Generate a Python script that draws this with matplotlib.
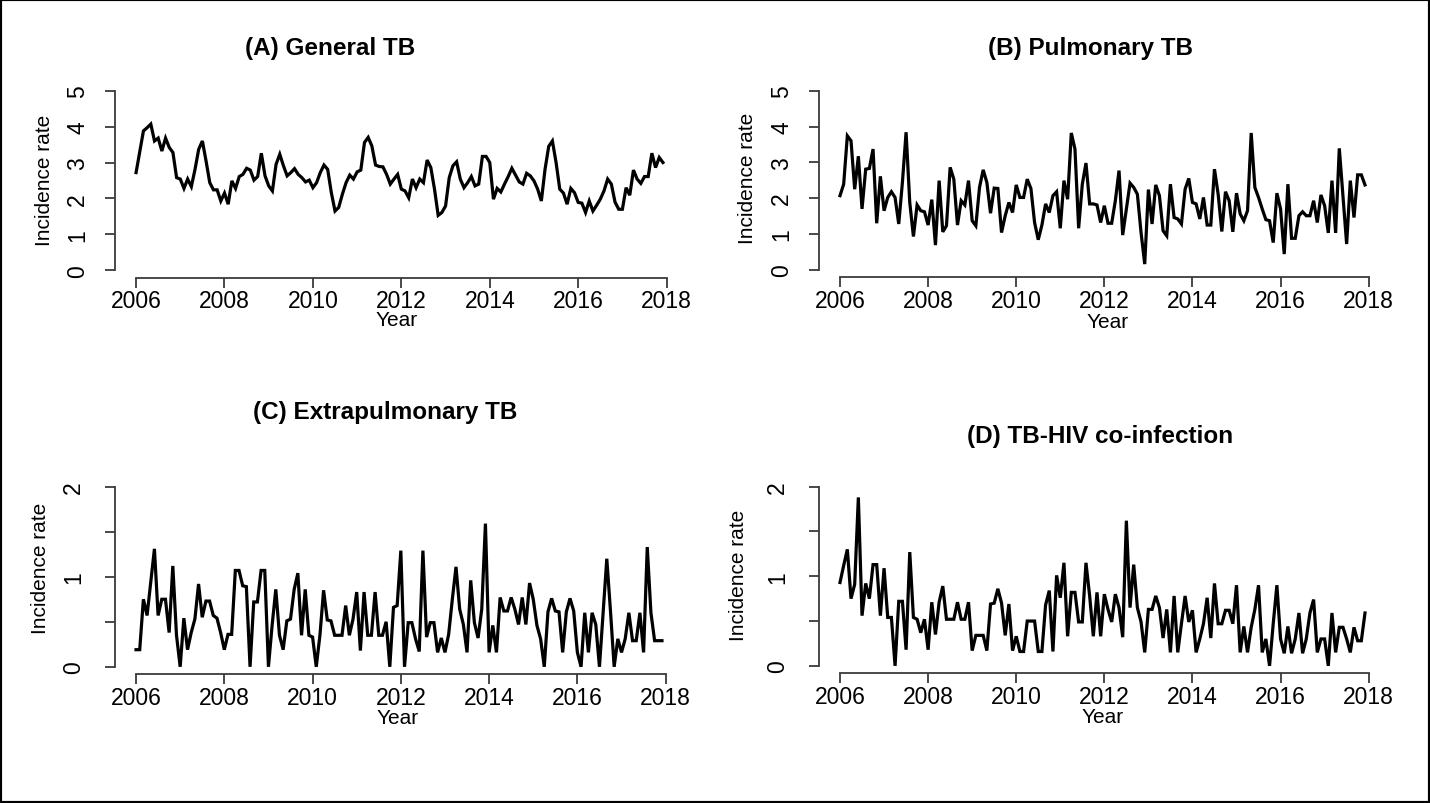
import numpy as np
import matplotlib
matplotlib.use("Agg")
import matplotlib.pyplot as plt
from matplotlib.patches import Rectangle

plt.rcParams['font.family'] = ['Liberation Sans', 'DejaVu Sans']

# monthly incidence rates, Jan 2006 - Dec 2017
general_tb = [2.72, 3.30, 3.88, 3.97, 4.07, 3.60, 3.68, 3.32, 3.68, 3.42,
              3.28, 2.58, 2.54, 2.28, 2.54, 2.33, 2.81, 3.37, 3.60, 3.04,
              2.44, 2.24, 2.24, 1.93, 2.15, 1.84, 2.49, 2.28, 2.61, 2.67,
              2.84, 2.79, 2.51, 2.61, 3.26, 2.63, 2.35, 2.21, 2.95, 3.23,
              2.91, 2.63, 2.72, 2.83, 2.67, 2.58, 2.46, 2.51, 2.30, 2.44,
              2.72, 2.93, 2.81, 2.16, 1.65, 1.75, 2.12, 2.44, 2.65, 2.54,
              2.74, 2.79, 3.56, 3.70, 3.46, 2.93, 2.89, 2.88, 2.67,
              2.40, 2.54, 2.67, 2.26, 2.21, 2.02, 2.54, 2.30, 2.54, 2.44,
              3.07, 2.86, 2.26, 1.53, 1.61, 1.79, 2.58, 2.91, 3.02, 2.54,
              2.30, 2.44, 2.61, 2.35, 2.40, 3.17, 3.17, 3.00, 1.98, 2.28,
              2.18, 2.40, 2.61, 2.84, 2.65, 2.46, 2.40, 2.70, 2.63, 2.49,
              2.26, 1.93, 2.81, 3.45, 3.60, 3.00, 2.26, 2.15, 1.84, 2.28,
              2.16, 1.89, 1.87, 1.61, 1.93, 1.65, 1.81, 1.98, 2.21, 2.54,
              2.40, 1.90, 1.70, 1.70, 2.30, 2.09, 2.79, 2.54, 2.42, 2.61,
              2.61, 3.26, 2.86, 3.14, 3.00]

pulmonary_tb = [2.07, 2.39, 3.74, 3.60, 2.25, 3.17, 1.70, 2.81, 2.83, 3.37,
                1.30, 2.61, 1.65, 2.02, 2.18, 2.02, 1.28, 2.44, 3.84, 1.88,
                0.93, 1.81, 1.65, 1.62, 1.25, 1.96, 0.69, 2.49, 1.06, 1.23,
                2.86, 2.53, 1.25, 1.93, 1.81, 2.49, 1.37, 1.23, 2.30, 2.79,
                2.44, 1.58, 2.28, 2.27, 1.04, 1.51, 1.88, 1.60, 2.37, 2.02,
                2.02, 2.53, 2.27, 1.32, 0.84, 1.25, 1.84, 1.60, 2.07, 2.18,
                1.16, 2.49, 1.97, 3.82, 3.37, 1.16, 2.39, 2.98, 1.84, 1.84,
                1.81, 1.32, 1.79, 1.30,
                1.30, 1.93, 2.77, 0.97, 1.70, 2.42, 2.30, 2.11, 1.04, 0.16,
                2.24, 1.28, 2.37, 2.07, 1.09, 0.95, 2.39, 1.46, 1.42, 1.28,
                2.25, 2.55, 1.88, 1.84, 1.42, 2.02, 1.25, 1.25, 2.81, 2.11,
                1.07, 2.18, 1.93, 1.06, 2.14, 1.56, 1.37, 1.65, 3.82, 2.30,
                2.02, 1.70, 1.40, 1.37, 0.76, 2.14, 1.70, 0.44, 2.39, 0.88,
                0.88, 1.51, 1.62, 1.51, 1.51, 1.93, 1.32, 2.09, 1.79, 1.03,
                2.49, 1.03, 3.39, 2.07, 0.72, 2.49, 1.46, 2.65, 2.65, 2.37]

extrapulmonary_tb = [0.19, 0.19, 0.75, 0.57, 0.94, 1.31, 0.57, 0.75, 0.75, 0.38,
                     1.12, 0.35, 0.00, 0.54, 0.19, 0.38, 0.53, 0.92, 0.55, 0.73,
                     0.73, 0.57, 0.54, 0.38, 0.19, 0.36, 0.36, 1.07, 1.07, 0.90,
                     0.89, 0.00, 0.72, 0.72, 1.07, 1.07, 0.00, 0.46, 0.86, 0.35,
                     0.19, 0.51, 0.53, 0.86, 1.04, 0.35, 0.86, 0.35, 0.33, 0.00,
                     0.35, 0.85, 0.52, 0.51, 0.35, 0.35, 0.35, 0.68, 0.35, 0.53,
                     0.83, 0.18, 0.83, 0.35, 0.35, 0.83, 0.35, 0.35, 0.50, 0.00,
                     0.66, 0.68, 1.29, 0.00, 0.49,
                     0.49, 0.31, 0.17, 1.29, 0.33, 0.49, 0.49, 0.16, 0.32, 0.16,
                     0.36, 0.75, 1.11, 0.64, 0.47, 0.16, 0.96, 0.49, 0.32, 0.64,
                     1.59, 0.16, 0.46, 0.16, 0.77, 0.62, 0.62, 0.77, 0.64, 0.47,
                     0.77, 0.47, 0.93, 0.75, 0.46, 0.31, 0.00, 0.61, 0.76, 0.62,
                     0.61, 0.16, 0.61, 0.76, 0.62, 0.16, 0.00, 0.60, 0.16, 0.60,
                     0.47, 0.00, 0.60, 1.20, 0.62, 0.00, 0.31, 0.16, 0.31, 0.60,
                     0.29, 0.29, 0.60, 0.16, 1.33, 0.60, 0.29, 0.29, 0.29]

tb_hiv = [0.93, 1.12, 1.30, 0.75, 0.91, 1.88, 0.56, 0.92, 0.75, 1.13,
          1.13, 0.56, 1.09, 0.54, 0.54, 0.00, 0.72, 0.72, 0.18, 1.27,
          0.54, 0.52, 0.37, 0.52, 0.18, 0.71, 0.35, 0.71, 0.89, 0.52,
          0.52, 0.52, 0.71, 0.52, 0.52, 0.71, 0.17, 0.34, 0.34, 0.34,
          0.17, 0.69, 0.70, 0.86, 0.70, 0.34, 0.69, 0.17, 0.33, 0.16,
          0.16, 0.50, 0.50, 0.50, 0.16, 0.16, 0.68, 0.84, 0.16, 1.01,
          0.76, 1.15, 0.33, 0.82, 0.82, 0.49, 0.49, 1.15, 0.78, 0.33,
          0.82, 0.33, 0.80, 0.63,
          0.49, 0.80, 0.65, 0.32, 1.62, 0.65, 1.13, 0.65, 0.49, 0.15,
          0.63, 0.63, 0.78, 0.65, 0.31, 0.63, 0.15, 0.78, 0.15, 0.47,
          0.78, 0.49, 0.62, 0.15, 0.30, 0.47, 0.76, 0.31, 0.92, 0.47,
          0.47, 0.62, 0.62, 0.47, 0.90, 0.15, 0.44, 0.15, 0.43, 0.63,
          0.90, 0.15, 0.30, 0.00, 0.47, 0.90, 0.30, 0.14, 0.44, 0.14,
          0.30, 0.59, 0.14, 0.30, 0.59, 0.74, 0.15, 0.30, 0.30, 0.00,
          0.59, 0.15, 0.43, 0.43, 0.30, 0.15, 0.43, 0.28, 0.28, 0.59]

titles = ["(A) General TB", "(B) Pulmonary TB",
          "(C) Extrapulmonary TB", "(D) TB-HIV co-infection"]
year_ticks = [2006, 2008, 2010, 2012, 2014, 2016, 2018]

W, H = 1430, 804
fig = plt.figure(figsize=(W / 100, H / 100), dpi=100)

def px(x, y):
    return x / W, 1 - y / H

def add_panel(left, right, top, bottom):
    return fig.add_axes([left / W, 1 - bottom / H, (right - left) / W, (bottom - top) / H])

months = 2006 + np.arange(144) / 12

# panel layout in pixels: plot region, title pos, ylabel pos, xlabel pos
panels = [
    dict(data=general_tb, rect=(115, 684, 84.5, 278.5), ymax=5,
         title=(330, 48), ylab=(45, 180), xlab=(397, 321), ypad=11),
    dict(data=pulmonary_tb, rect=(819, 1386, 84.5, 278), ymax=5,
         title=(1091, 48), ylab=(747, 178), xlab=(1108, 323), ypad=11),
    dict(data=extrapulmonary_tb, rect=(115, 683, 480.5, 675), ymax=2,
         title=(385, 413), ylab=(40, 568), xlab=(398, 719), ypad=14),
    dict(data=tb_hiv, rect=(819, 1386, 480.5, 674), ymax=2,
         title=(1100, 437), ylab=(738, 575), xlab=(1103, 718), ypad=14),
]

spine_col = '#3a3a3a'
for i, p in enumerate(panels):
    ax = add_panel(*p['rect'])
    ax.plot(months, p['data'], color='black', lw=2.3, solid_joinstyle='miter')
    span = months[-1] - months[0]
    ax.set_xlim(months[0] - 0.04 * span, months[-1] + 0.04 * span)
    ax.set_ylim(-0.04 * p['ymax'], 1.04 * p['ymax'])
    for s in ['top', 'right']:
        ax.spines[s].set_visible(False)
    ax.spines['left'].set_bounds(0, p['ymax'])
    ax.spines['bottom'].set_bounds(2006, 2018)
    for s in ['left', 'bottom']:
        ax.spines[s].set_color(spine_col)
        ax.spines[s].set_linewidth(1.3)
    ax.set_xticks(year_ticks)
    ax.set_xticklabels([str(y) for y in year_ticks])
    if p['ymax'] == 5:
        ax.set_yticks([0, 1, 2, 3, 4, 5])
        ax.set_yticklabels(['0', '1', '2', '3', '4', '5'])
    else:
        ax.set_yticks([0, 0.5, 1, 1.5, 2])
        ax.set_yticklabels(['0', '', '1', '', '2'])
    ax.tick_params(axis='both', direction='out', length=7.5, width=1.3,
                   color=spine_col, labelsize=16.5)
    ax.tick_params(axis='x', pad=1)
    ax.tick_params(axis='y', pad=p['ypad'], labelrotation=90)
    for lab in ax.get_yticklabels():
        lab.set_va('center')
    fig.text(*px(*p['title']), titles[i], fontsize=17.5, fontweight='bold',
             ha='center', va='center')
    fig.text(*px(*p['ylab']), "Incidence rate", fontsize=15, rotation=90,
             ha='center', va='center')
    fig.text(*px(*p['xlab']), "Year", fontsize=15, ha='center', va='center')

# outer frame
fig.patches.append(Rectangle((0, 0), 1, 1, transform=fig.transFigure,
                             fill=False, edgecolor='black', linewidth=3))

fig.savefig("out.png", dpi=100)
